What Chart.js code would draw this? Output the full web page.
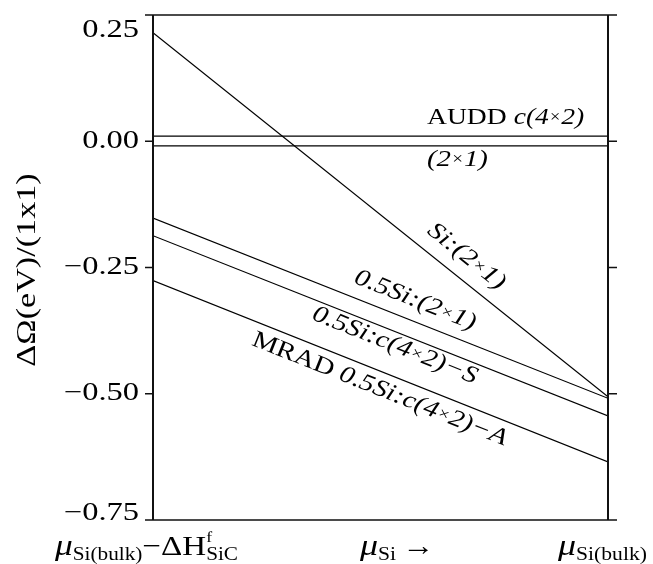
<!DOCTYPE html>
<html>
<head>
<meta charset="utf-8">
<script src="https://cdn.jsdelivr.net/npm/chart.js@4.4.1/dist/chart.umd.min.js"></script>
<style>
html, body { margin: 0; padding: 0; background: #fff; }
</style>
</head>
<body>
<canvas id="chart" width="653" height="564"></canvas>
<script>
// chemical potential runs from the Si-poor end (0) to bulk Si (1)
const xEnds = [0, 1]
const auddC4x2 = [0.010, 0.010]
const dimer2x1 = [-0.009, -0.009]
const si2x1 = [0.215, -0.506]
const halfSi2x1 = [-0.152, -0.509]
const halfSiC4x2S = [-0.187, -0.544]
const mradC4x2A = [-0.276, -0.635]

const yTicks = [0.25, 0.00, -0.25, -0.50, -0.75]
const yTickLabels = ['0.25', '0.00', '\u22120.25', '\u22120.50', '\u22120.75']

const SERIF = '"Liberation Serif", "Times New Roman", serif'
const f = (style, size) => style + ' ' + size + 'px ' + SERIF

function pts(ys) {
    return xEnds.map((x, i) => ({ x: x, y: ys[i] }))
}

// parts: [text, font, dy, advance]
function drawRich(ctx, parts, x, y, o) {
    ctx.save()
    ctx.translate(x, y)
    if (o.angle) ctx.rotate(o.angle)
    ctx.scale(o.sx || 1, o.sy || 1)
    let w = 0
    parts.forEach(p => {
        ctx.font = p[1]
        if (p[3] !== false) w += ctx.measureText(p[0]).width
    })
    let cx = o.align === 'center' ? -w / 2 : o.align === 'right' ? -w : 0
    ctx.textBaseline = o.baseline || 'alphabetic'
    ctx.fillStyle = '#000'
    parts.forEach(p => {
        ctx.font = p[1]
        ctx.fillText(p[0], cx, p[2] || 0)
        if (p[3] !== false) cx += ctx.measureText(p[0]).width
    })
    ctx.restore()
}

const it = f('italic', 24)
const itSmall = f('italic', 16)

// where each line label sits: fraction along x, offset across the line (px)
const lineLabels = [
    { ds: 2, t: 0.66, off: 21, parts: [['Si:(2', it], ['\u00d7', itSmall], ['1)', it]] },
    { ds: 3, t: 0.56, off: 20, parts: [['0.5Si:(2', it], ['\u00d7', itSmall], ['1)', it]] },
    { ds: 4, t: 0.542, off: -13, parts: [['0.5Si:c(4', it], ['\u00d7', itSmall], ['2)\u2212S', it]] },
    { ds: 5, t: 0.512, off: -17, parts: [['MRAD ', f('', 24)], ['0.5Si:c(4', it], ['\u00d7', itSmall], ['2)\u2212A', it]] }
]

const decor = {
    id: 'decor',
    afterDraw(chart) {
        const ctx = chart.ctx
        const xs = chart.scales.x
        const ys = chart.scales.y
        const a = chart.chartArea

        // frame
        ctx.save()
        ctx.strokeStyle = '#111'
        ctx.lineWidth = 2
        ctx.beginPath()
        ctx.moveTo(a.left, a.top); ctx.lineTo(a.left, a.bottom)
        ctx.moveTo(a.right, a.top); ctx.lineTo(a.right, a.bottom)
        ctx.stroke()
        ctx.lineWidth = 1.6
        ctx.beginPath()
        yTicks.forEach(v => {
            const py = ys.getPixelForValue(v)
            ctx.moveTo(a.left - 8, py); ctx.lineTo(a.left, py)
            ctx.moveTo(a.right, py); ctx.lineTo(a.right + 9, py)
        })
        ctx.moveTo(a.left, a.top); ctx.lineTo(a.right, a.top)
        ctx.moveTo(a.left, a.bottom); ctx.lineTo(a.right, a.bottom)
        ctx.stroke()
        ctx.restore()

        // y tick labels (end labels nudged inward)
        yTicks.forEach((v, i) => {
            let py = ys.getPixelForValue(v)
            if (v === ys.max) py += 15
            if (v === ys.min) py -= 7
            drawRich(ctx, [[yTickLabels[i], f('', 25)]], 139, py, { align: 'right', baseline: 'middle', sx: 1.3 })
        })

        // y title
        drawRich(ctx, [['\u0394\u03a9(eV)/(1x1)', f('', 28)]], 28, 270,
            { angle: -Math.PI / 2, align: 'center', baseline: 'middle', sx: 1.22, sy: 1.0 })

        // flat lines
        drawRich(ctx, [['AUDD ', f('', 24)], ['c(4', it], ['\u00d7', itSmall], ['2)', it]], 427, 118,
            { baseline: 'middle', sx: 1.15 })
        drawRich(ctx, [['(2', it], ['\u00d7', itSmall], ['1)', it]], 427, 160,
            { baseline: 'middle', sx: 1.2 })

        // sloped lines
        lineLabels.forEach(l => {
            const d = chart.data.datasets[l.ds].data
            const x0 = xs.getPixelForValue(d[0].x), y0 = ys.getPixelForValue(d[0].y)
            const x1 = xs.getPixelForValue(d[1].x), y1 = ys.getPixelForValue(d[1].y)
            const dx = x1 - x0, dy = y1 - y0
            const len = Math.hypot(dx, dy)
            const px = x0 + l.t * dx + l.off * dy / len
            const py = y0 + l.t * dy - l.off * dx / len
            drawRich(ctx, l.parts, px, py, { angle: Math.atan2(dy, dx), align: 'center', baseline: 'middle', sx: 1.2 })
        })

        // x labels
        const mu = f('italic', 30)
        const sub = f('', 18)
        drawRich(ctx, [['\u03bc', mu], ['Si(bulk)', sub, 5], ['\u2212\u0394H', f('', 28)],
            ['f', f('', 15), -13, false], ['SiC', sub, 5]], 55, 555, { sx: 1.18 })
        drawRich(ctx, [['\u03bc', mu], ['Si', sub, 5]], 360, 555, { sx: 1.2 })
        drawRich(ctx, [['\u2192', f('', 28)]], 402, 555, { sx: 1.15 })
        drawRich(ctx, [['\u03bc', mu], ['Si(bulk)', sub, 5]], 558, 555, { sx: 1.2 })
    }
}

const lineStyle = { borderColor: '#000', borderWidth: 1.2, pointRadius: 0, fill: false, tension: 0 }

new Chart(document.getElementById('chart'), {
    type: 'line',
    data: {
        datasets: [
            Object.assign({ label: 'AUDD c(4x2)', data: pts(auddC4x2) }, lineStyle),
            Object.assign({ label: '(2x1)', data: pts(dimer2x1) }, lineStyle),
            Object.assign({ label: 'Si:(2x1)', data: pts(si2x1) }, lineStyle),
            Object.assign({ label: '0.5Si:(2x1)', data: pts(halfSi2x1) }, lineStyle),
            Object.assign({ label: '0.5Si:c(4x2)-S', data: pts(halfSiC4x2S) }, lineStyle),
            Object.assign({ label: 'MRAD 0.5Si:c(4x2)-A', data: pts(mradC4x2A) }, lineStyle)
        ]
    },
    options: {
        responsive: false,
        animation: false,
        devicePixelRatio: 1,
        layout: { padding: { left: 153, right: 45, top: 15, bottom: 44 } },
        scales: {
            x: { type: 'linear', min: 0, max: 1, display: false },
            y: { type: 'linear', min: -0.75, max: 0.25, display: false }
        },
        plugins: { legend: { display: false }, tooltip: { enabled: false } }
    },
    plugins: [decor]
})
</script>
</body>
</html>
